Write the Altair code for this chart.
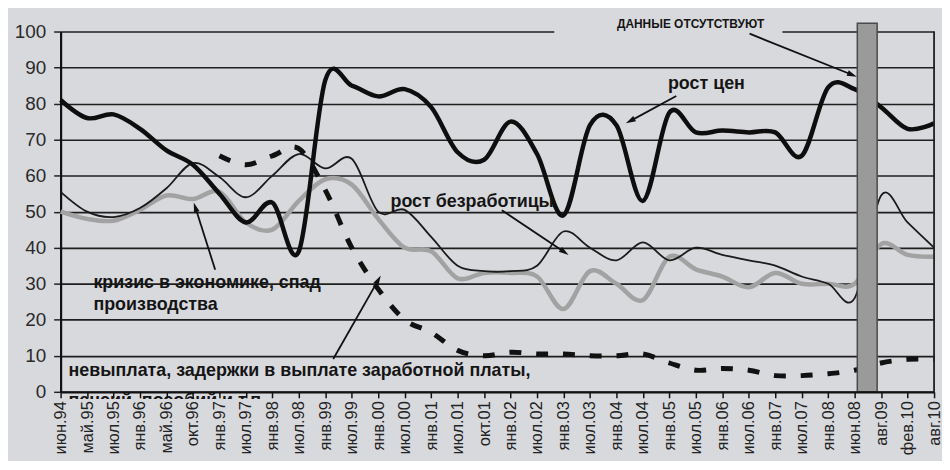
import math
import altair as alt
import pandas as pd

# ---------------- data ----------------
labels = ["июн.94", "май.95", "июл.95", "янв.96", "май.96", "окт.96", "янв.97", "июл.97",
          "янв.98", "июл.98", "янв.99", "июл.99", "янв.00", "июл.00", "янв.01", "июл.01",
          "окт.01", "янв.02", "июл.02", "янв.03", "июл.03", "янв.04", "июл.04", "янв.05",
          "июл.05", "янв.06", "июл.06", "янв.07", "июл.07", "янв.08", "июн.08", "авг.09",
          "фев.10", "авг.10"]

# рост цен (thick black)
prices = [81, 76, 77, 73, 67, 63, 55, 47, 52.5, 39, 86.5, 85, 82, 84, 79, 66.5, 64.4,
          75, 66, 49, 74, 74, 53, 77.5, 72, 72.5, 72, 72, 65.5, 84.5, 84, 79, 73, 74.5]
# рост безработицы (thin black)
unemployment = [55.5, 50, 48.5, 51, 56.5, 63.5, 59.6, 54, 60, 66, 62, 64.7, 50, 50.5, 43,
                35, 33.5, 33.5, 35, 44.5, 40, 36.5, 41.5, 36.5, 40, 38, 36.5, 35, 32, 30,
                26, 54.5, 47, 40]
# кризис в экономике, спад производства (thick grey)
crisis = [50, 48, 47.5, 50.5, 54.5, 53.5, 55.5, 47, 45, 53, 59, 57.5, 48, 40, 39, 31.5,
          33, 33, 32, 23, 33.5, 30, 25.5, 37.5, 34, 32, 29, 33, 30, 30, 30, 41, 38, 37.5]
# невыплата, задержки в выплате заработной платы (dashed), starts at янв.97
wages_start = 6
wages = [65.5, 63, 65.5, 67.5, 56, 40, 28.5, 20, 16.5, 11.5, 10, 11, 10.5, 10.5, 10, 10,
         10.5, 8, 6, 6.5, 6, 4.5, 4.5, 5, 6, 8, 9, 9]

# "данные отсутствуют" bar (category-index units)
gap_from, gap_to, gap_top = 30.1, 30.85, 102.3

# annotation texts
ann_center_big = [("рост цен", 24.4, 85.4), ("рост безработицы", 15.55, 52.6)]
ann_left_big = [("кризис в экономике, спад", 1.24, 30.3), ("производства", 1.24, 24.0),
                ("невыплата,  задержки в выплате заработной платы,", 0.3, 5.8),
                ("пенсий, пособий и т.п.", 0.3, -2.6)]
ann_small = [("ДАННЫЕ ОТСУТСТВУЮТ", 23.8, 102.2)]

# arrows: tail (x1, y1) -> head (x2, y2)
arrow_x1 = [23.26, 16.67, 5.84, 10.3, 26.03]
arrow_y1 = [82.1, 50.4, 33.9, 9.1, 99.4]
arrow_x2 = [21.53, 19.03, 5.09, 12.0, 29.9]
arrow_y2 = [75.2, 38.8, 51.2, 31.0, 88.0]

# ---------------- layout ----------------
W, H = 880, 363
BG = "#d8d9dd"
FONT = "Liberation Sans"
px_x = W / (len(labels) - 1)
px_y = H / 100.0

n = len(labels)
df_p = pd.DataFrame({"i": list(range(n)), "v": prices})
df_u = pd.DataFrame({"i": list(range(n)), "v": unemployment})
df_c = pd.DataFrame({"i": list(range(n)), "v": crisis})
df_w = pd.DataFrame({"i": list(range(wages_start, wages_start + len(wages))), "v": wages})

label_expr = "[" + ",".join("'" + s + "'" for s in labels) + "][datum.value]"

xscale = alt.Scale(domain=[0, n - 1], nice=False, zero=False)
yscale = alt.Scale(domain=[0, 100], nice=False, zero=True)

xaxis = alt.Axis(values=list(range(n)), labelExpr=label_expr, labelAngle=270,
                 labelAlign="right", labelBaseline="middle", labelFontSize=16.5,
                 labelFont=FONT, labelColor="#222222", labelPadding=3,
                 tickSize=6, tickColor="#111111", tickWidth=1.5,
                 domainColor="#111111", domainWidth=2.2, grid=False,
                 labelOverlap=False, labelBound=False, zindex=1)
yaxis = alt.Axis(values=list(range(0, 101, 10)), grid=True, gridColor="#1e1e1e",
                 gridWidth=1.6, domainColor="#111111", domainWidth=2.2,
                 tickSize=7, tickColor="#222222", tickWidth=1.5,
                 labelFontSize=19, labelFont=FONT, labelColor="#2a2a2a",
                 labelPadding=8, labelOverlap=False)


def xe(field):
    return alt.X(field, type="quantitative", scale=xscale, axis=xaxis, title=None)


def xe2(field):
    return alt.X2(field)


def ye(field):
    return alt.Y(field, type="quantitative", scale=yscale, axis=yaxis, title=None)


def ye2(field):
    return alt.Y2(field)


grey = alt.Chart(df_c).mark_line(color="#a2a2a2", strokeWidth=4.5,
                                 interpolate="cardinal").encode(x=xe("i"), y=ye("v"))
thin = alt.Chart(df_u).mark_line(color="#1a1a1a", strokeWidth=1.8,
                                 interpolate="cardinal").encode(x=xe("i"), y=ye("v"))
dashed = alt.Chart(df_w).mark_line(color="#111111", strokeWidth=5, strokeDash=[12, 15],
                                   interpolate="cardinal").encode(x=xe("i"), y=ye("v"))
thick = alt.Chart(df_p).mark_line(color="#0e0e0e", strokeWidth=4.5,
                                  interpolate="cardinal").encode(x=xe("i"), y=ye("v"))

# right border
border = alt.Chart(pd.DataFrame({"i": [n - 1], "v": [0], "v2": [100]})).mark_rule(
    color="#1e1e1e", strokeWidth=1.8).encode(x=xe("i"), y=ye("v"), y2=ye2("v2"))

# missing-data bar
bar = alt.Chart(pd.DataFrame({"i": [gap_from], "i2": [gap_to], "v": [0], "v2": [gap_top]})).mark_rect(
    fill="#9a9a9a", stroke="#4a4a4a", strokeWidth=1.5).encode(
    x=xe("i"), x2=xe2("i2"), y=ye("v"), y2=ye2("v2"))

# break in the top line behind the small label
gapbox = alt.Chart(pd.DataFrame({"i": [18.65], "i2": [27.27], "v": [99.2], "v2": [104]})).mark_rect(
    fill=BG).encode(x=xe("i"), x2=xe2("i2"), y=ye("v"), y2=ye2("v2"))

# cover the lower part of the cut-off second annotation line
cover = alt.Chart(pd.DataFrame({"i": [0.05], "i2": [14], "v": [-2.0], "v2": [-25]})).mark_rect(
    fill=BG).encode(x=xe("i"), x2=xe2("i2"), y=ye("v"), y2=ye2("v2"))

# arrows
arr = pd.DataFrame({"x1": arrow_x1, "y1": arrow_y1, "x2": arrow_x2, "y2": arrow_y2})
arr["ang"] = [
    math.degrees(math.atan2((b - a) * px_x, (d - c) * px_y)) % 360
    for a, b, c, d in zip(arrow_x1, arrow_x2, arrow_y1, arrow_y2)
]
arrow_lines = alt.Chart(arr).mark_rule(color="#111111", strokeWidth=1.8).encode(
    x=xe("x1"), y=ye("y1"), x2=xe2("x2"), y2=ye2("y2"))
arrow_heads = alt.Chart(arr).mark_point(
    shape="M0,-1L0.55,0.9L-0.55,0.9Z", filled=True, color="#111111", opacity=1, size=110
).encode(x=xe("x2"), y=ye("y2"), angle=alt.Angle("ang:Q", scale=None))


def text_df(items):
    return pd.DataFrame({"t": [a for a, _, _ in items], "x": [b for _, b, _ in items],
                         "y": [c for _, _, c in items]})


t_center = alt.Chart(text_df(ann_center_big)).mark_text(
    font=FONT, fontSize=18, fontWeight="bold", color="#151515", align="center",
    baseline="middle").encode(x=xe("x"), y=ye("y"), text="t:N")
t_left = alt.Chart(text_df(ann_left_big)).mark_text(
    font=FONT, fontSize=18, fontWeight="bold", color="#151515", align="left",
    baseline="middle").encode(x=xe("x"), y=ye("y"), text="t:N")
t_small = alt.Chart(text_df(ann_small)).mark_text(
    font=FONT, fontSize=12, fontWeight="bold", color="#151515", align="center",
    baseline="middle").encode(x=xe("x"), y=ye("y"), text="t:N")

chart = alt.layer(
    grey, thin, dashed, thick, border, t_left, cover, bar, gapbox, t_center, t_small,
    arrow_lines, arrow_heads
).properties(
    width=W, height=H, autosize="none",
    padding={"left": 53, "top": 22, "right": 8, "bottom": 68},
    background=BG,
).configure_view(stroke=None)

chart.save("out.html", embed_options={"renderer": "svg", "actions": False})
